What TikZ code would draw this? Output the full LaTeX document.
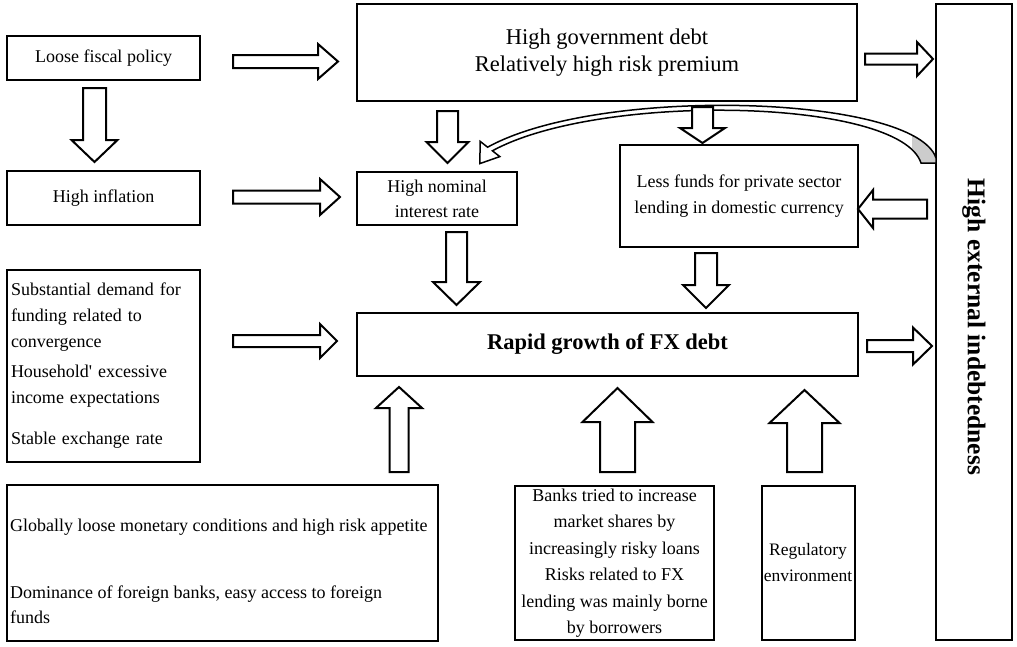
\documentclass[tikz,border=0pt]{standalone}
\usepackage{fontspec}
\setmainfont{Liberation Serif}
\usetikzlibrary{calc}
\tikzset{
  box/.style={draw, line width=2pt, inner sep=0pt, align=center, font=\fontsize{18}{26}\selectfont},
  blk/.style={draw, line width=2pt, fill=white, line join=miter},
  band/.style={line width=1.5pt, line join=miter},
}
\newcommand{\blockarrow}[5]{%
  \path ($(#2)!#5!(#1)$) coordinate (hb);
  \draw[blk] ($(#1)!#3!90:(#2)$) -- ($(hb)!#3!90:(#2)$) -- ($(hb)!#4!90:(#2)$) -- (#2)
    -- ($(hb)!#4!-90:(#2)$) -- ($(hb)!#3!-90:(#2)$) -- ($(#1)!#3!-90:(#2)$) -- cycle;
}
\newcommand{\bandpath}{(936,158) .. controls (915,95) and (600,85) .. (487.6,147.2)
  -- (480.2,141.4) -- (479.8,163.6) -- (499.8,156.6) -- (492.4,150.8)
  .. controls (600,92) and (900,98) .. (921,163) -- (936,163) -- cycle}
\begin{document}
\begin{tikzpicture}[x=1pt,y=-1pt]
\useasboundingbox (0,0) rectangle (1017,646);

% boxes
\node[box, minimum width=193pt, minimum height=44pt] (lfp) at (103.5,58) {Loose fiscal policy};
\node[box, minimum width=500pt, minimum height=97pt, font=\fontsize{22.5}{27}\selectfont] (hgd) at (607,52.5) {High government debt\\Relatively high risk premium};
\node[box, rotate=-90, minimum width=636pt, minimum height=76pt, font=\bfseries\fontsize{25.5}{30}\selectfont] (he) at (974,322) {\hspace*{10pt}High external indebtedness};
\node[box, minimum width=193pt, minimum height=54pt] (hinf) at (103.5,198) {High inflation};
\node[box, minimum width=160pt, minimum height=53pt, font=\fontsize{18}{25}\selectfont] (hnir) at (437,198.5) {High nominal\\interest rate};
\node[box, minimum width=238pt, minimum height=102pt] (lf) at (739,196) {Less funds for private sector\\lending in domestic currency};
\node[box, minimum width=193pt, minimum height=192pt, text width=185pt, align=left] (sub) at (103.5,366)
  {Substantial demand for\\funding related to\\convergence\\[4pt]Household\textquotesingle{} excessive\\income expectations\\[15pt]Stable exchange rate};
\node[box, minimum width=501pt, minimum height=63pt, font=\bfseries\fontsize{22.5}{26}\selectfont] (rapid) at (607.5,344.5) {Rapid growth of FX debt};
\node[box, minimum width=431pt, minimum height=156pt] (glob) at (222.5,563) {};
\node[anchor=west, inner sep=0pt, align=left, font=\fontsize{18}{25}\selectfont] (globtext) at ($(glob.west)+(4,8)$)
  {Globally loose monetary conditions and high risk appetite\\[42pt]Dominance of foreign banks, easy access to foreign\\funds};
\node[box, minimum width=199pt, minimum height=154pt, font=\fontsize{18}{26.5}\selectfont] (banks) at (614.5,563)
  {Banks tried to increase\\market shares by\\increasingly risky loans\\Risks related to FX\\lending was mainly borne\\by borrowers};
\node[box, minimum width=93pt, minimum height=154pt, font=\fontsize{17.5}{26}\selectfont] (reg) at (808,563) {Regulatory\\environment};

% curved arrow from external indebtedness to nominal interest rate
\fill[white] \bandpath;
\begin{scope}
  \clip (912,0) rectangle (940,170);
  \fill[gray!40] \bandpath;
\end{scope}
\draw[band] \bandpath;

% arrow end points
\coordinate (a1t) at (233,61.5);  \coordinate (a1h) at (338,61.5);
\coordinate (a2t) at (233,197);   \coordinate (a2h) at (340,197);
\coordinate (a3t) at (233,341);   \coordinate (a3h) at (337,341);
\coordinate (a4t) at (865,59);    \coordinate (a4h) at (933,59);
\coordinate (a5t) at (867,346);   \coordinate (a5h) at (932,346);
\coordinate (a6t) at (927,209);   \coordinate (a6h) at (858,209);
\coordinate (a7t) at (94.5,88);   \coordinate (a7h) at (94.5,162);
\coordinate (a8t) at (447.5,111); \coordinate (a8h) at (447.5,163);
\coordinate (a9t) at (702.5,107); \coordinate (a9h) at (702.5,143);
\coordinate (a10t) at (456.5,232); \coordinate (a10h) at (456.5,305);
\coordinate (a11t) at (706,253);  \coordinate (a11h) at (706,308);
\coordinate (a12t) at (399,472);  \coordinate (a12h) at (399,387);
\coordinate (a13t) at (617.5,472); \coordinate (a13h) at (617.5,388);
\coordinate (a14t) at (804.5,472); \coordinate (a14h) at (804.5,390);

\blockarrow{a1t}{a1h}{6.5pt}{17.5pt}{20pt}
\blockarrow{a2t}{a2h}{6.5pt}{18pt}{20pt}
\blockarrow{a3t}{a3h}{6pt}{17pt}{17pt}
\blockarrow{a4t}{a4h}{5.5pt}{17pt}{16pt}
\blockarrow{a5t}{a5h}{6pt}{18.5pt}{19pt}
\blockarrow{a6t}{a6h}{9.5pt}{19pt}{15pt}
\blockarrow{a7t}{a7h}{11.5pt}{23pt}{22pt}
\blockarrow{a8t}{a8h}{10.5pt}{21pt}{21pt}
\blockarrow{a9t}{a9h}{10.5pt}{22.5pt}{15pt}
\blockarrow{a10t}{a10h}{10.5pt}{23.5pt}{23pt}
\blockarrow{a11t}{a11h}{11pt}{23pt}{23pt}
\blockarrow{a12t}{a12h}{9.5pt}{23pt}{21pt}
\blockarrow{a13t}{a13h}{17.5pt}{35pt}{34pt}
\blockarrow{a14t}{a14h}{17.5pt}{35pt}{33pt}
\end{tikzpicture}
\end{document}
